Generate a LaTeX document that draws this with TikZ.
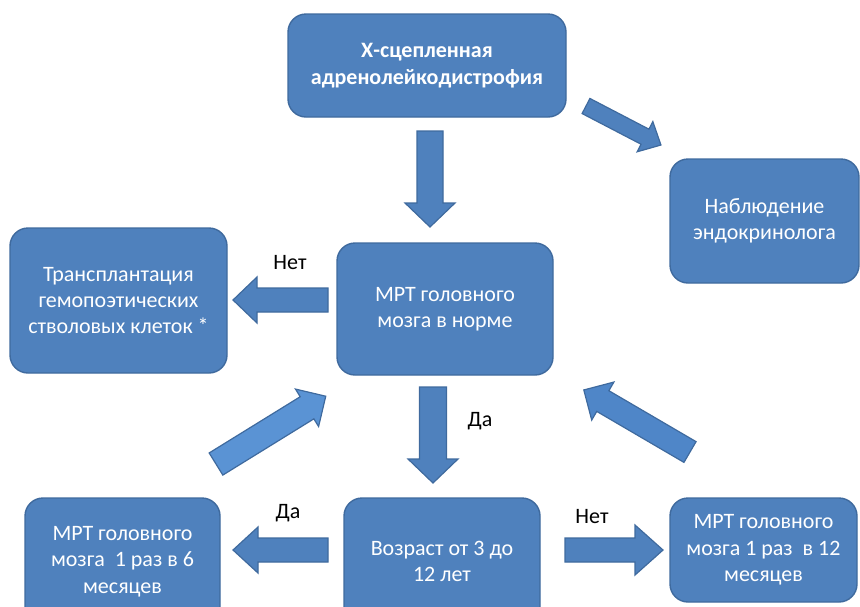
\documentclass[tikz,border=0pt]{standalone}
\usepackage{fontspec}
\setmainfont{Carlito}
\begin{document}
\begin{tikzpicture}[x=0.5pt,y=-0.5pt,
  box/.style={draw=boxedge, fill=boxfill, line width=0.7pt, rounded corners=9pt,
    text=white, align=center, font=\fontsize{11}{13.2}\selectfont, inner sep=0pt},
  lbl/.style={text=black, font=\fontsize{11}{13}\selectfont, inner sep=0pt},
  arr/.style={draw=boxedge, fill=boxfill, line width=0.6pt, line join=miter}]
\definecolor{boxfill}{HTML}{4F81BD}
\definecolor{boxedge}{HTML}{3F6A9E}
\definecolor{lightarr}{HTML}{5A93D4}
\definecolor{midarr}{HTML}{4F86C8}
\newcommand\blockarr[8]{%
  \begin{scope}[shift={(#1,#2)}, rotate=#3]
    \draw[arr,#8] (0,-#5) -- ({#4-#7},-#5) -- ({#4-#7},-#6) -- (#4,0)
      -- ({#4-#7},#6) -- ({#4-#7},#5) -- (0,#5) -- cycle;
  \end{scope}}
\useasboundingbox (0,0) rectangle (860,606);
\clip (0,0) rectangle (860,606);
% boxes
\node[box, minimum width=139pt, minimum height=51.5pt, font=\fontsize{11}{13.2}\selectfont\bfseries]
  (top) at (427,65.5) {Х-сцепленная\\адренолейкодистрофия};
\node[box, minimum width=94.5pt, minimum height=62pt] (nabl) at (764.5,221)
  {Наблюдение\\эндокринолога};
\node[box, minimum width=108.5pt, minimum height=72.5pt] (trans) at (118.5,300.5)
  {Трансплантация\\гемопоэтических\\стволовых клеток *};
\node[box, minimum width=108pt, minimum height=66pt] (mrt) at (445,309)
  {МРТ головного\\мозга в норме};
\node[box, minimum width=97.5pt, minimum height=63.5pt] (bl) at (122.5,561.5)
  {МРТ головного\\мозга~ 1 раз в 6\\месяцев};
\node[box, minimum width=98pt, minimum height=63.5pt] (age) at (442,561.5)
  {Возраст от 3 до\\12 лет};
\node[box, minimum width=93.5pt, minimum height=52pt] (br) at (763.5,550)
  {МРТ головного\\мозга 1 раз~ в 12\\месяцев};
% block arrows
\blockarr{430}{131}{-90}{96}{13}{25}{24}{}
\blockarr{586}{106}{-27.5}{84.5}{8.5}{17}{18}{}
\blockarr{328}{300}{180}{95}{12}{23}{24}{}
\blockarr{433}{387}{-90}{96}{13.5}{25}{24}{}
\blockarr{216}{464}{31.7}{129}{13}{22}{22}{fill=lightarr}
\blockarr{690}{452}{149.7}{123}{12}{22}{22}{fill=midarr}
\blockarr{328}{550}{180}{95}{12}{23}{25}{}
\blockarr{565}{550}{0}{98}{12}{25}{28}{}
% labels
\node[lbl] (l1) at (290,263) {Нет};
\node[lbl] (l2) at (480,421) {Да};
\node[lbl] (l3) at (288,513) {Да};
\node[lbl] (l4) at (592,517) {Нет};
\end{tikzpicture}
\end{document}
